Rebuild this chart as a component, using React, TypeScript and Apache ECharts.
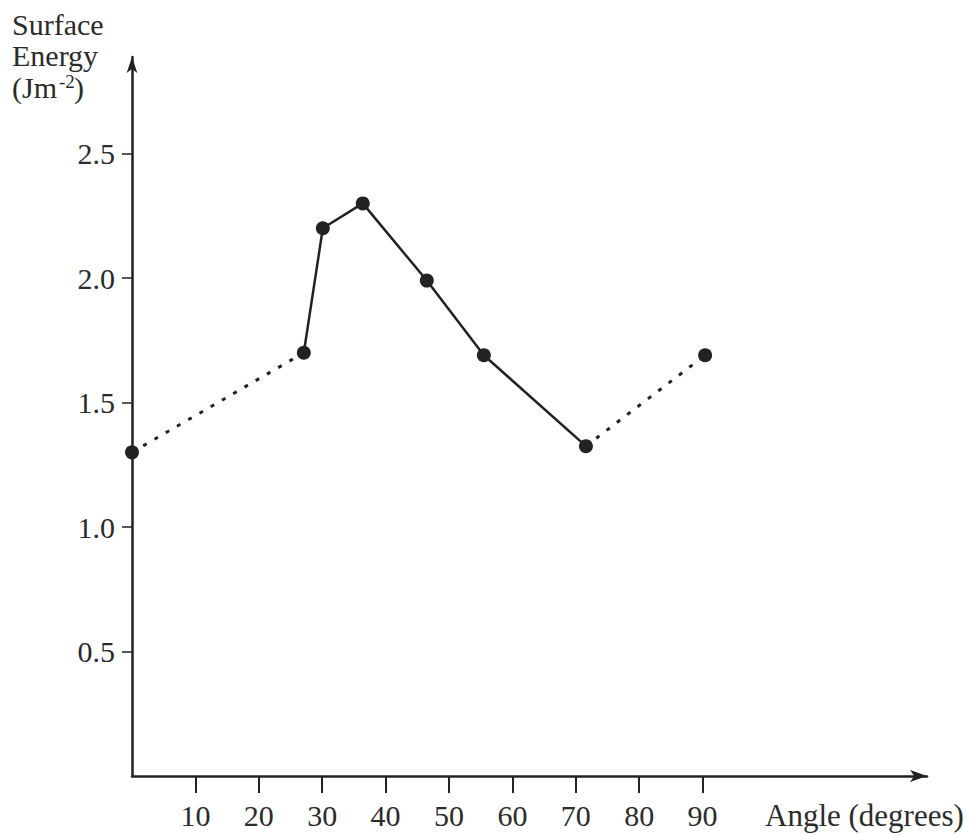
import React, { useEffect, useRef } from "react";
import * as echarts from "echarts";

// Data
const angles = [0, 27.1, 30.1, 36.4, 46.5, 55.5, 71.6, 90.4];
const energies = [1.3, 1.7, 2.2, 2.3, 1.99, 1.69, 1.325, 1.69];
const solidIdx = [1, 2, 3, 4, 5, 6];
const dottedSegments = [
  [0, 1],
  [6, 7],
];
const xTicks = [10, 20, 30, 40, 50, 60, 70, 80, 90];
const yTicks = [0.5, 1.0, 1.5, 2.0, 2.5];
const xName = "Angle (degrees)";
const yNameLines = ["Surface", "Energy", "(Jm", "-2", ")"];

const FONT = "'Liberation Serif', 'Times New Roman', serif";
const INK = "#222";
const TXT = "#2b2b2b";

export default function App() {
  const ref = useRef<HTMLDivElement>(null);

  useEffect(() => {
    if (!ref.current) return;
    const chart = echarts.init(ref.current, undefined, { renderer: "svg" });

    const pt = (i: number) => [angles[i], energies[i]];

    const series: any[] = [
      {
        type: "line",
        data: solidIdx.map(pt),
        showSymbol: false,
        symbol: "none",
        lineStyle: { color: INK, width: 2.5 },
        z: 2,
      },
      ...dottedSegments.map((seg) => ({
        type: "line",
        data: seg.map(pt),
        showSymbol: false,
        symbol: "none",
        lineStyle: { color: INK, width: 3, type: [4, 9] },
        z: 2,
      })),
      {
        type: "scatter",
        data: angles.map((_, i) => pt(i)),
        symbol: "circle",
        symbolSize: 14,
        itemStyle: { color: INK, opacity: 1 },
        z: 3,
      },
    ];

    const big = { fontSize: 30, lineHeight: 30, fontFamily: FONT, fill: TXT };

    chart.setOption({
      animation: false,
      backgroundColor: "#ffffff",
      grid: { left: 132, right: 43, top: 57, bottom: 59, containLabel: false },
      xAxis: {
        type: "value",
        min: 0,
        max: 125.4,
        interval: 10,
        axisLine: {
          show: true,
          onZero: false,
          symbol: ["none", "arrow"],
          symbolSize: [9, 17],
          lineStyle: { color: INK, width: 2.5 },
        },
        axisTick: {
          show: true,
          length: 17,
          customValues: xTicks,
          lineStyle: { color: INK, width: 2 },
        },
        axisLabel: {
          show: true,
          customValues: xTicks,
          margin: 24,
          color: TXT,
          fontSize: 30,
          fontFamily: FONT,
        },
        splitLine: { show: false },
      },
      yAxis: {
        type: "value",
        min: 0,
        max: 2.888,
        interval: 0.5,
        axisLine: {
          show: true,
          onZero: false,
          symbol: ["none", "arrow"],
          symbolSize: [8, 16],
          lineStyle: { color: INK, width: 2.5 },
        },
        axisTick: {
          show: true,
          length: 10,
          customValues: yTicks,
          lineStyle: { color: INK, width: 1.5 },
        },
        axisLabel: {
          show: true,
          customValues: yTicks,
          margin: 17,
          color: TXT,
          fontSize: 30,
          fontFamily: FONT,
          formatter: (v: number) => v.toFixed(1),
        },
        splitLine: { show: false },
      },
      graphic: [
        { type: "text", left: 12, top: 9, style: { ...big, text: yNameLines[0] } },
        { type: "text", left: 12, top: 40, style: { ...big, text: yNameLines[1] } },
        { type: "text", left: 12, top: 72, style: { ...big, text: yNameLines[2] } },
        {
          type: "text",
          left: 59,
          top: 72,
          style: { text: yNameLines[3], fontSize: 19, lineHeight: 19, fontFamily: FONT, fill: TXT },
        },
        { type: "text", left: 74, top: 72, style: { ...big, text: yNameLines[4] } },
        {
          type: "text",
          left: 765,
          top: 800,
          style: { ...big, fontSize: 31, lineHeight: 31, text: xName },
        },
      ],
      series,
    });

    return () => chart.dispose();
  }, []);

  return (
    <div
      ref={ref}
      style={{ position: "absolute", left: 0, top: 0, width: 970, height: 835, background: "#fff" }}
    />
  );
}
